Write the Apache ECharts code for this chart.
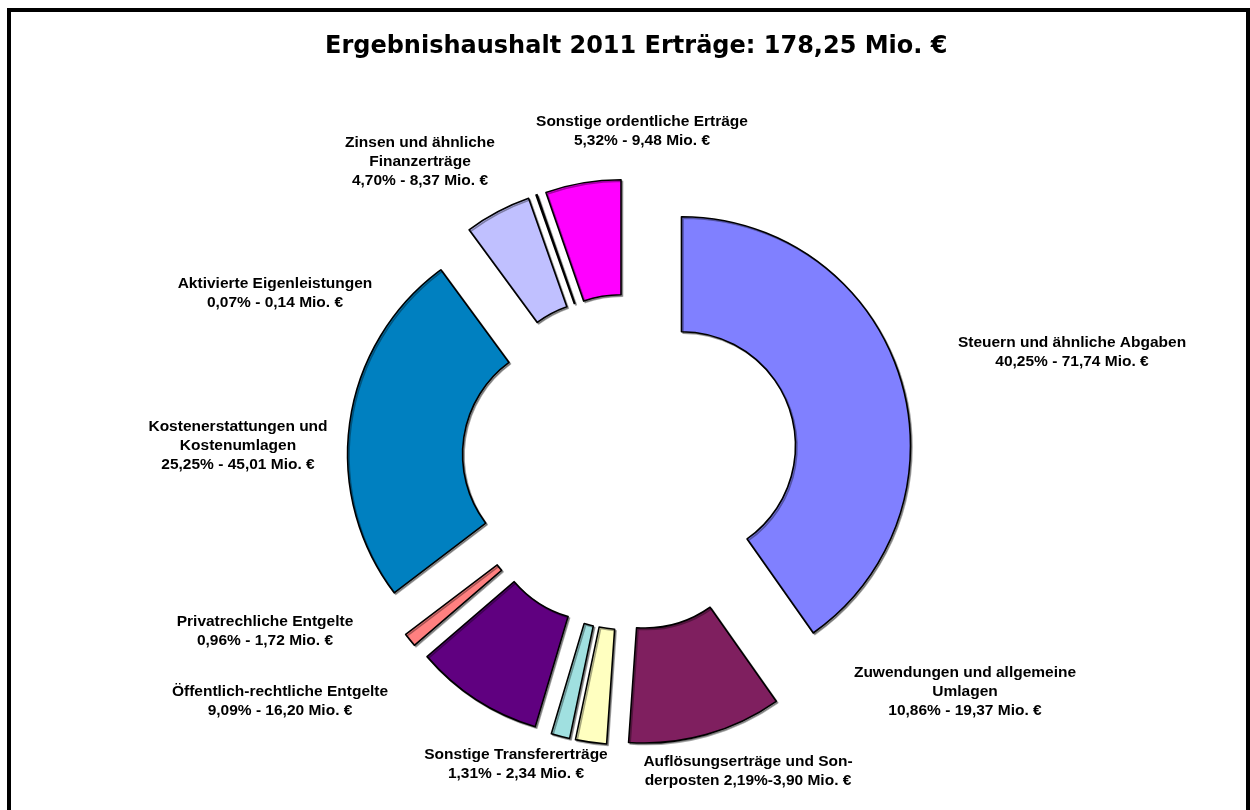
<!DOCTYPE html>
<html>
<head>
<meta charset="utf-8">
<title>Ergebnishaushalt 2011 Erträge</title>
<script src="https://cdn.jsdelivr.net/npm/echarts@6/dist/echarts.min.js"></script>
<style>
  html, body { margin: 0; padding: 0; background: #fff; }
  #main { width: 1250px; height: 810px; }
</style>
</head>
<body>
<div id="main"></div>
<script>
// Kategorien im Uhrzeigersinn ab 12 Uhr
var categories = [
  'Steuern und ähnliche Abgaben',
  'Zuwendungen und allgemeine\nUmlagen',
  'Auflösungserträge und Son-\nderposten',
  'Sonstige Transfererträge',
  'Öffentlich-rechtliche Entgelte',
  'Privatrechliche Entgelte',
  'Kostenerstattungen und\nKostenumlagen',
  'Zinsen und ähnliche\nFinanzerträge',
  'Aktivierte Eigenleistungen',
  'Sonstige ordentliche Erträge'
];
var valuesMio = [71.74, 19.37, 3.90, 2.34, 16.20, 1.72, 45.01, 8.37, 0.14, 9.48];
var shares = [40.25, 10.86, 2.19, 1.31, 9.09, 0.96, 25.25, 4.70, 0.07, 5.32];
var colors = ['#8080ff', '#7f1f5f', '#ffffc0', '#a0e0e0', '#600080', '#ff8080', '#0080c0', '#c0c0ff', '#000000', '#ff00ff'];

// Lage der Beschriftungen (Mitte x, Oberkante y)
var labelPos = [
  [1072, 333], [965, 663], [748, 752], [516, 745], [280, 682],
  [265, 612], [238, 417], [420, 133], [275, 274], [642, 112]
];

function de(n) { return n.toFixed(2).replace('.', ','); }

function labelText(i) {
  if (categories[i].indexOf('Son-') >= 0) {
    // diese Beschriftung steht im Original ohne Umbruch vor dem Prozentwert
    return categories[i] + ' ' + de(shares[i]) + '%-' + de(valuesMio[i]) + ' Mio. €';
  }
  return categories[i] + '\n' + de(shares[i]) + '% - ' + de(valuesMio[i]) + ' Mio. €';
}

var chartDom = document.getElementById('main');
var myChart = echarts.init(chartDom);

var pieData = [];
for (var i = 0; i < categories.length; i++) {
  pieData.push({
    name: categories[i],
    value: valuesMio[i],
    selected: true,
    itemStyle: { color: colors[i] }
  });
}

// Rahmen + Beschriftungen
var graphics = [{
  type: 'rect',
  shape: { x: 9, y: 10, width: 1239, height: 812 },
  style: { fill: 'none', stroke: '#000', lineWidth: 4 },
  silent: true
}];
for (var j = 0; j < categories.length; j++) {
  graphics.push({
    type: 'text',
    x: labelPos[j][0],
    y: labelPos[j][1],
    silent: true,
    style: {
      text: labelText(j),
      fill: '#000',
      fontFamily: 'Liberation Sans',
      fontWeight: 'bold',
      fontSize: 15.5,
      lineHeight: 19,
      align: 'center',
      verticalAlign: 'top'
    }
  });
}

var option = {
  backgroundColor: '#fff',
  animation: false,
  title: {
    text: 'Ergebnishaushalt 2011 Erträge: 178,25 Mio. €',
    left: 320,
    top: 30,
    textStyle: {
      fontFamily: 'DejaVu Sans',
      fontWeight: 'bold',
      fontSize: 24,
      color: '#000'
    }
  },
  graphic: graphics,
  series: [{
    type: 'pie',
    center: [630, 462],
    radius: [114, 229],
    startAngle: 90,
    clockwise: true,
    selectedMode: 'multiple',
    selectedOffset: 54,
    itemStyle: {
      borderColor: '#000',
      borderWidth: 1.6,
      shadowColor: 'rgba(0,0,0,0.35)',
      shadowOffsetX: 1.5,
      shadowOffsetY: 1.5
    },
    emphasis: { disabled: true },
    select: { itemStyle: { borderColor: '#000', borderWidth: 1.6 } },
    label: { show: false },
    labelLine: { show: false },
    data: pieData
  }]
};

myChart.setOption(option);
</script>
</body>
</html>
